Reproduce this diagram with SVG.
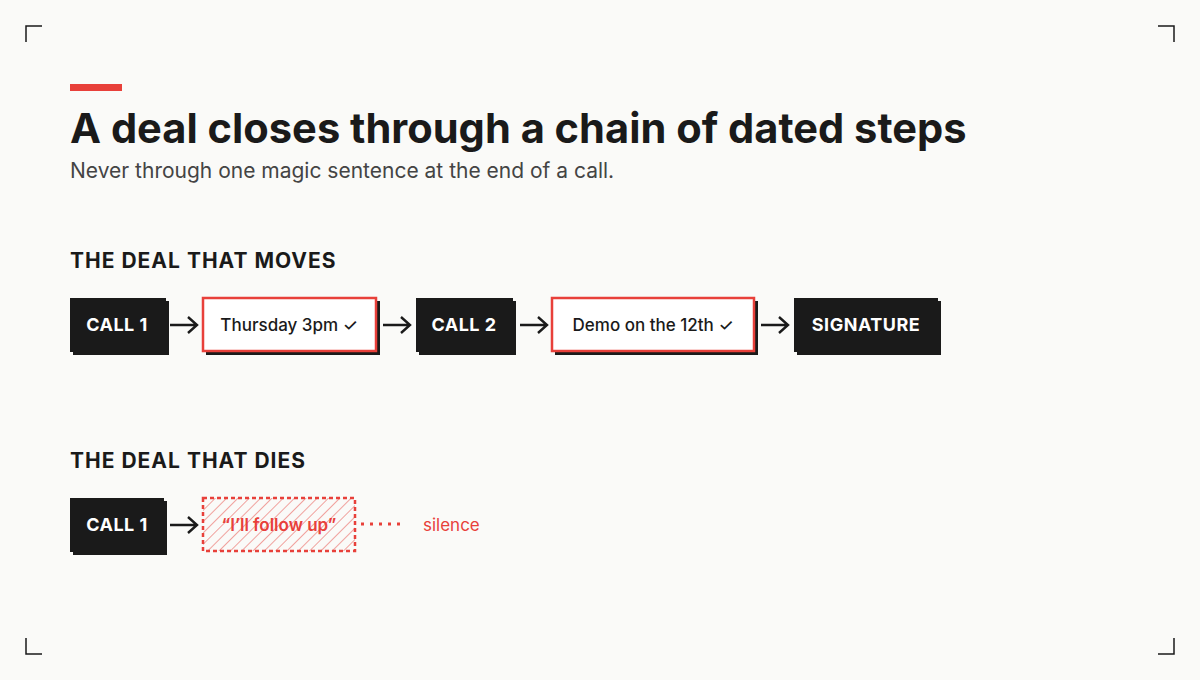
<svg xmlns="http://www.w3.org/2000/svg" width="1200" height="680" viewBox="0 0 1200 680">
<style>
.t{font-family:Inter,"Liberation Sans",sans-serif}
.dark{fill:#1a1a1a}
.dl{font-family:Inter,"Liberation Sans",sans-serif;font-weight:700;font-size:18px;fill:#fff;letter-spacing:0.5px}
.rl{font-family:Inter,"Liberation Sans",sans-serif;font-weight:500;font-size:17px;fill:#1a1a1a}
.arr{fill:none;stroke:#1a1a1a;stroke-width:2.4}
.h{font-family:Inter,"Liberation Sans",sans-serif;font-weight:700;font-size:21px;fill:#1a1a1a;letter-spacing:1px}
</style>
<defs>
<pattern id="hatch" width="8" height="8" patternUnits="userSpaceOnUse" patternTransform="rotate(45)">
<line x1="0" y1="0" x2="0" y2="8" stroke="#e8403a" stroke-width="1.2" opacity="0.8"/>
</pattern>
</defs>
<rect width="1200" height="680" fill="#fafaf8"/>
<g stroke="#1a1a1a" stroke-width="1.5" fill="none">
<path d="M26 42V26H42"/><path d="M1158 26H1174V42"/><path d="M26 638V654H42"/><path d="M1158 654H1174V638"/>
</g>
<rect x="70" y="84" width="52" height="7" fill="#e8403a"/>
<text class="t" x="70" y="143" font-size="41.6" font-weight="700" fill="#1a1a1a">A deal closes through a chain of dated steps</text>
<text class="t" x="70" y="178" font-size="21" fill="#444">Never through one magic sentence at the end of a call.</text>
<text class="h" x="70" y="268">THE DEAL THAT MOVES</text>
<text class="h" x="70" y="468">THE DEAL THAT DIES</text>
<g id="n1"><rect x="73" y="301" width="96" height="54" class="dark"/><rect x="70" y="298" width="96" height="54" class="dark"/><text class="dl" x="117" y="331" text-anchor="middle">CALL 1</text></g>
<g id="n2"><rect x="206" y="301" width="174" height="54" class="dark"/><rect x="203" y="298" width="173" height="53" fill="#fff" stroke="#e8403a" stroke-width="2.5"/><text class="rl" x="289" y="331" text-anchor="middle">Thursday 3pm ✓</text></g>
<g id="n3"><rect x="419" y="301" width="97" height="54" class="dark"/><rect x="416" y="298" width="97" height="54" class="dark"/><text class="dl" x="464" y="331" text-anchor="middle">CALL 2</text></g>
<g id="n4"><rect x="555" y="301" width="203" height="54" class="dark"/><rect x="552" y="298" width="202" height="53" fill="#fff" stroke="#e8403a" stroke-width="2.5"/><text class="rl" x="653" y="331" text-anchor="middle">Demo on the 12th ✓</text></g>
<g id="n5"><rect x="797" y="301" width="144" height="54" class="dark"/><rect x="794" y="298" width="144" height="54" class="dark"/><text class="dl" x="866" y="331" text-anchor="middle">SIGNATURE</text></g>
<g id="n6"><rect x="73" y="501" width="94" height="54" class="dark"/><rect x="70" y="498" width="94" height="54" class="dark"/><text class="dl" x="117" y="531" text-anchor="middle">CALL 1</text></g>
<g id="n7"><rect x="203" y="498" width="152" height="53" fill="url(#hatch)" stroke="#e8403a" stroke-width="2.5" stroke-dasharray="4 3"/><text class="t" x="279" y="531" text-anchor="middle" font-size="17" font-weight="600" fill="#e8403a">“I’ll follow up”</text></g>
<g id="connectors">
<path class="arr" d="M170 325H196M188 317L197 325L188 333"/>
<path class="arr" d="M383 325H409M401 317L410 325L401 333"/>
<path class="arr" d="M520 325H546M538 317L547 325L538 333"/>
<path class="arr" d="M761 325H787M779 317L788 325L779 333"/>
<path class="arr" d="M170 525H196M188 517L197 525L188 533"/>
<path d="M361 524H406" stroke="#e8403a" stroke-width="3" stroke-dasharray="3 6" fill="none"/>
</g>
<text class="t" x="423" y="531" font-size="17" fill="#e8403a">silence</text>
</svg>
